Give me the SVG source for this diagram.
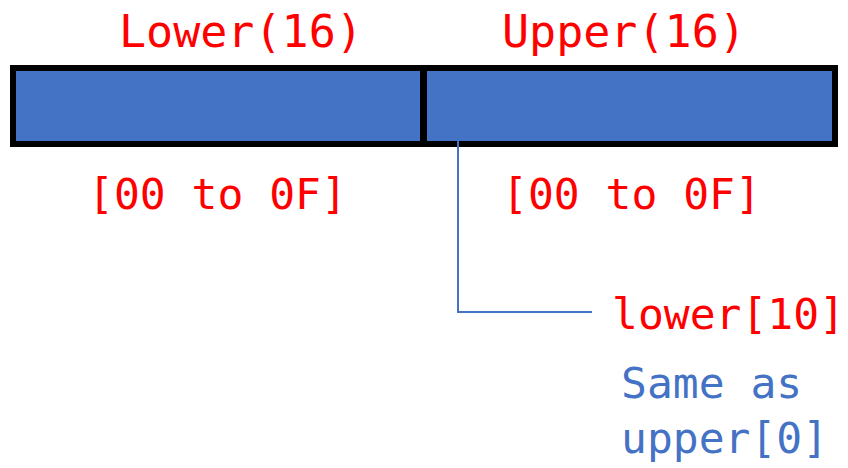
<svg xmlns="http://www.w3.org/2000/svg" width="848" height="468" viewBox="0 0 848 468">
  <style>
    .lbl { font-family: "DejaVu Sans Mono", "Liberation Mono", monospace; font-size: 43px; }
    .head { font-size: 45px; }
    .red { fill: #FF0000; }
    .blue { fill: #4472C4; }
    .cell { fill: #4472C4; }
    .leader { fill: none; stroke: #4472C4; stroke-width: 2; }
  </style>
  <rect width="848" height="468" fill="#FFFFFF"/>

  <!-- register bar: black frame with two blue halves -->
  <g id="bar">
    <rect x="10" y="65" width="828" height="82" fill="#000000"/>
  </g>
  <g id="lower">
    <rect class="cell" x="16" y="71" width="404" height="70"/>
    <text class="lbl head red" x="119" y="47">Lower(16)</text>
    <text class="lbl red" x="88" y="209">[00 to 0F]</text>
  </g>
  <g id="upper">
    <rect class="cell" x="427" y="71" width="405" height="70"/>
    <text class="lbl head red" x="502" y="47">Upper(16)</text>
    <text class="lbl red" x="502" y="209">[00 to 0F]</text>
  </g>

  <!-- leader from the start of the upper half to its note -->
  <g id="connectors">
    <polyline class="leader" points="458,141 458,312 592,312"/>
  </g>

  <g id="note">
    <text class="lbl red" x="612" y="329">lower[10]</text>
    <text class="lbl blue" x="621" y="398">Same as</text>
    <text class="lbl blue" x="621" y="453">upper[0]</text>
  </g>
</svg>
